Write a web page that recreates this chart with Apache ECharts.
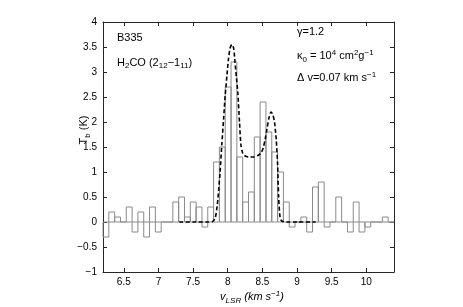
<!DOCTYPE html>
<html>
<head>
<meta charset="utf-8">
<script src="https://cdn.jsdelivr.net/npm/echarts@6/dist/echarts.min.js"></script>
<style>
html,body{margin:0;padding:0;background:#fff;}
#c{width:463px;height:307px;}
</style>
</head>
<body>
<div id="c"></div>
<script>
// Channel centre velocities (km/s) of the observed spectrum
var channelVel = [6.242, 6.326, 6.410, 6.494, 6.578, 6.662, 6.746, 6.830, 6.914, 6.998,
  7.082, 7.166, 7.250, 7.334, 7.418, 7.502, 7.586, 7.670, 7.754, 7.838,
  7.922, 8.006, 8.090, 8.174, 8.258, 8.342, 8.426, 8.510, 8.594, 8.678,
  8.762, 8.846, 8.930, 9.014, 9.098, 9.182, 9.266, 9.350, 9.434, 9.518,
  9.602, 9.686, 9.770, 9.854, 9.938, 10.022, 10.106, 10.190, 10.274, 10.358];
var channelWidth = 0.084;
// Observed brightness temperature (K)
var observedTb = [-0.3, 0.2, 0.1, 0, 0.3, -0.2, 0.2, -0.3, 0.3, -0.2,
  0, 0, 0.4, 0.5, 0.1, 0.4, 0.3, -0.1, 0.3, 1.2,
  1.5, 2.7, 3.2, 1.3, 0.4, 0.6, 1.7, 2.4, 1.8, 1.4,
  1.0, 0.4, -0.1, 0, 0.1, -0.2, 0.7, 0.8, -0.1, 0,
  0.5, 0, -0.2, 0.4, -0.2, -0.1, 0, 0, 0.1, 0];
// Model line profile (dashed)
var modelVel = [7.30, 7.50, 7.70, 7.78, 7.82, 7.85, 7.87, 7.89, 7.915, 7.94, 7.965, 7.99, 8.01, 8.035, 8.06,
  8.085, 8.105, 8.125, 8.145, 8.17, 8.19, 8.215, 8.24, 8.30, 8.37, 8.435, 8.48, 8.51, 8.54, 8.565,
  8.595, 8.625, 8.65, 8.675, 8.70, 8.72, 8.735, 8.755, 8.78, 8.85, 9.0, 9.27];
var modelTb = [0, 0, 0, 0.01, 0.08, 0.35, 0.65, 1.0, 1.55, 2.05, 2.55, 2.95, 3.25, 3.48, 3.55,
  3.48, 3.2, 2.9, 2.6, 2.0, 1.55, 1.38, 1.33, 1.30, 1.30, 1.33, 1.38, 1.47, 1.65, 1.85,
  2.08, 2.2, 2.15, 2.0, 1.65, 1.15, 0.5, 0.1, 0.02, 0, 0, 0];
// Axis ticks
var xTicks = [6.5, 7, 7.5, 8, 8.5, 9, 9.5, 10];
var xMin = 6.2, xMax = 10.4;
var yMin = -1, yMax = 4, yStep = 0.5;

var histData = channelVel.map(function (v, i) {
  return [v - channelWidth / 2, v + channelWidth / 2, observedTb[i]];
});
var modelData = modelVel.map(function (v, i) { return [v, modelTb[i]]; });

var FONT = '"Liberation Sans", Arial, Helvetica, sans-serif';
var axisCol = '#262626';
function minus(v) { return String(v).replace('-', '\u2212'); }

var chart = echarts.init(document.getElementById('c'), null, {renderer: 'canvas'});
var xAxisBase = {
  type: 'value', min: xMin, max: xMax,
  axisLine: {show: true, onZero: false, lineStyle: {color: axisCol, width: 1}},
  axisTick: {show: true, inside: true, length: 4, customValues: xTicks, lineStyle: {color: axisCol}},
  splitLine: {show: false}
};
var yAxisBase = {
  type: 'value', min: yMin, max: yMax, interval: yStep,
  axisLine: {show: true, onZero: false, lineStyle: {color: axisCol, width: 1}},
  axisTick: {show: true, inside: true, length: 4, lineStyle: {color: axisCol}},
  splitLine: {show: false}
};
var option = {
  backgroundColor: '#fff',
  animation: false,
  grid: {left: 103, right: 69, top: 22, bottom: 35, containLabel: false},
  xAxis: [
    Object.assign({}, xAxisBase, {position: 'bottom',
      axisLabel: {show: true, customValues: xTicks, margin: 5, color: '#000', fontSize: 10, fontFamily: FONT,
        formatter: minus}}),
    Object.assign({}, xAxisBase, {position: 'top', axisLabel: {show: false}})
  ],
  yAxis: [
    Object.assign({}, yAxisBase, {position: 'left',
      axisLabel: {show: true, margin: 6, color: '#000', fontSize: 10, fontFamily: FONT, formatter: minus}}),
    Object.assign({}, yAxisBase, {position: 'right', axisLabel: {show: false}})
  ],
  series: [
    {
      type: 'custom', xAxisIndex: 0, yAxisIndex: 0,
      data: histData,
      encode: {x: [0, 1], y: 2},
      renderItem: function (params, api) {
        var p0 = api.coord([api.value(0), 0]);
        var p1 = api.coord([api.value(1), api.value(2)]);
        return {
          type: 'rect',
          shape: {x: p0[0], y: Math.min(p0[1], p1[1]), width: p1[0] - p0[0], height: Math.abs(p1[1] - p0[1])},
          style: {fill: null, stroke: '#8a8a8a', lineWidth: 1}
        };
      },
      z: 2
    },
    {
      type: 'line', xAxisIndex: 0, yAxisIndex: 0,
      data: modelData, showSymbol: false, smooth: 0.25,
      lineStyle: {color: '#000', width: 1.6, type: [4, 2.5]},
      z: 3
    }
  ],
  graphic: [
    {type: 'text', left: 117, top: 32, style: {text: 'B335', fontSize: 11, fontFamily: FONT, fill: '#000'}},
    {type: 'text', left: 117, top: 57, style: {
      text: 'H{sub|2}CO (2{sub|12}\u22121{sub|11})', fontSize: 11, fontFamily: FONT, fill: '#000',
      rich: {sub: {fontSize: 8, fontFamily: FONT, padding: [7, 0, 0, 0]}}}},
    {type: 'text', left: 297, top: 26, style: {text: '\u03b3=1.2', fontSize: 11, fontFamily: FONT, fill: '#000'}},
    {type: 'text', left: 297, top: 49, style: {
      text: '\u03ba{sub|0} = 10{sup|4} cm{sup|2}g{sup|\u22121}', fontSize: 11, fontFamily: FONT, fill: '#000',
      rich: {sub: {fontSize: 8, fontFamily: FONT, padding: [7, 0, 0, 0]},
             sup: {fontSize: 8, fontFamily: FONT, padding: [0, 0, 6, 0]}}}},
    {type: 'text', left: 297, top: 71, style: {
      text: '\u0394 v=0.07 km s{sup|\u22121}', fontSize: 11, fontFamily: FONT, fill: '#000',
      rich: {sup: {fontSize: 8, fontFamily: FONT, padding: [0, 0, 6, 0]}}}},
    {type: 'text', x: 84, y: 130, rotation: Math.PI / 2, style: {
      text: 'T{sub|b} (K)', fontSize: 11, fontFamily: FONT, fill: '#000', align: 'center', verticalAlign: 'middle',
      rich: {sub: {fontSize: 8, fontFamily: FONT, padding: [7, 0, 0, 0]}}}},
    {type: 'text', x: 252, y: 297, style: {
      text: '{i|v}{sub|LSR}{i| (km s}{sup|\u22121}{i|)}', fontSize: 11, fontFamily: FONT, fill: '#000',
      align: 'center', verticalAlign: 'middle',
      rich: {i: {fontSize: 11, fontStyle: 'italic', fontFamily: FONT},
             sub: {fontSize: 8, fontStyle: 'italic', fontFamily: FONT, padding: [7, 0, 0, 0]},
             sup: {fontSize: 8, fontStyle: 'italic', fontFamily: FONT, padding: [0, 0, 6, 0]}}}}
  ]
};
chart.setOption(option);
</script>
</body>
</html>
